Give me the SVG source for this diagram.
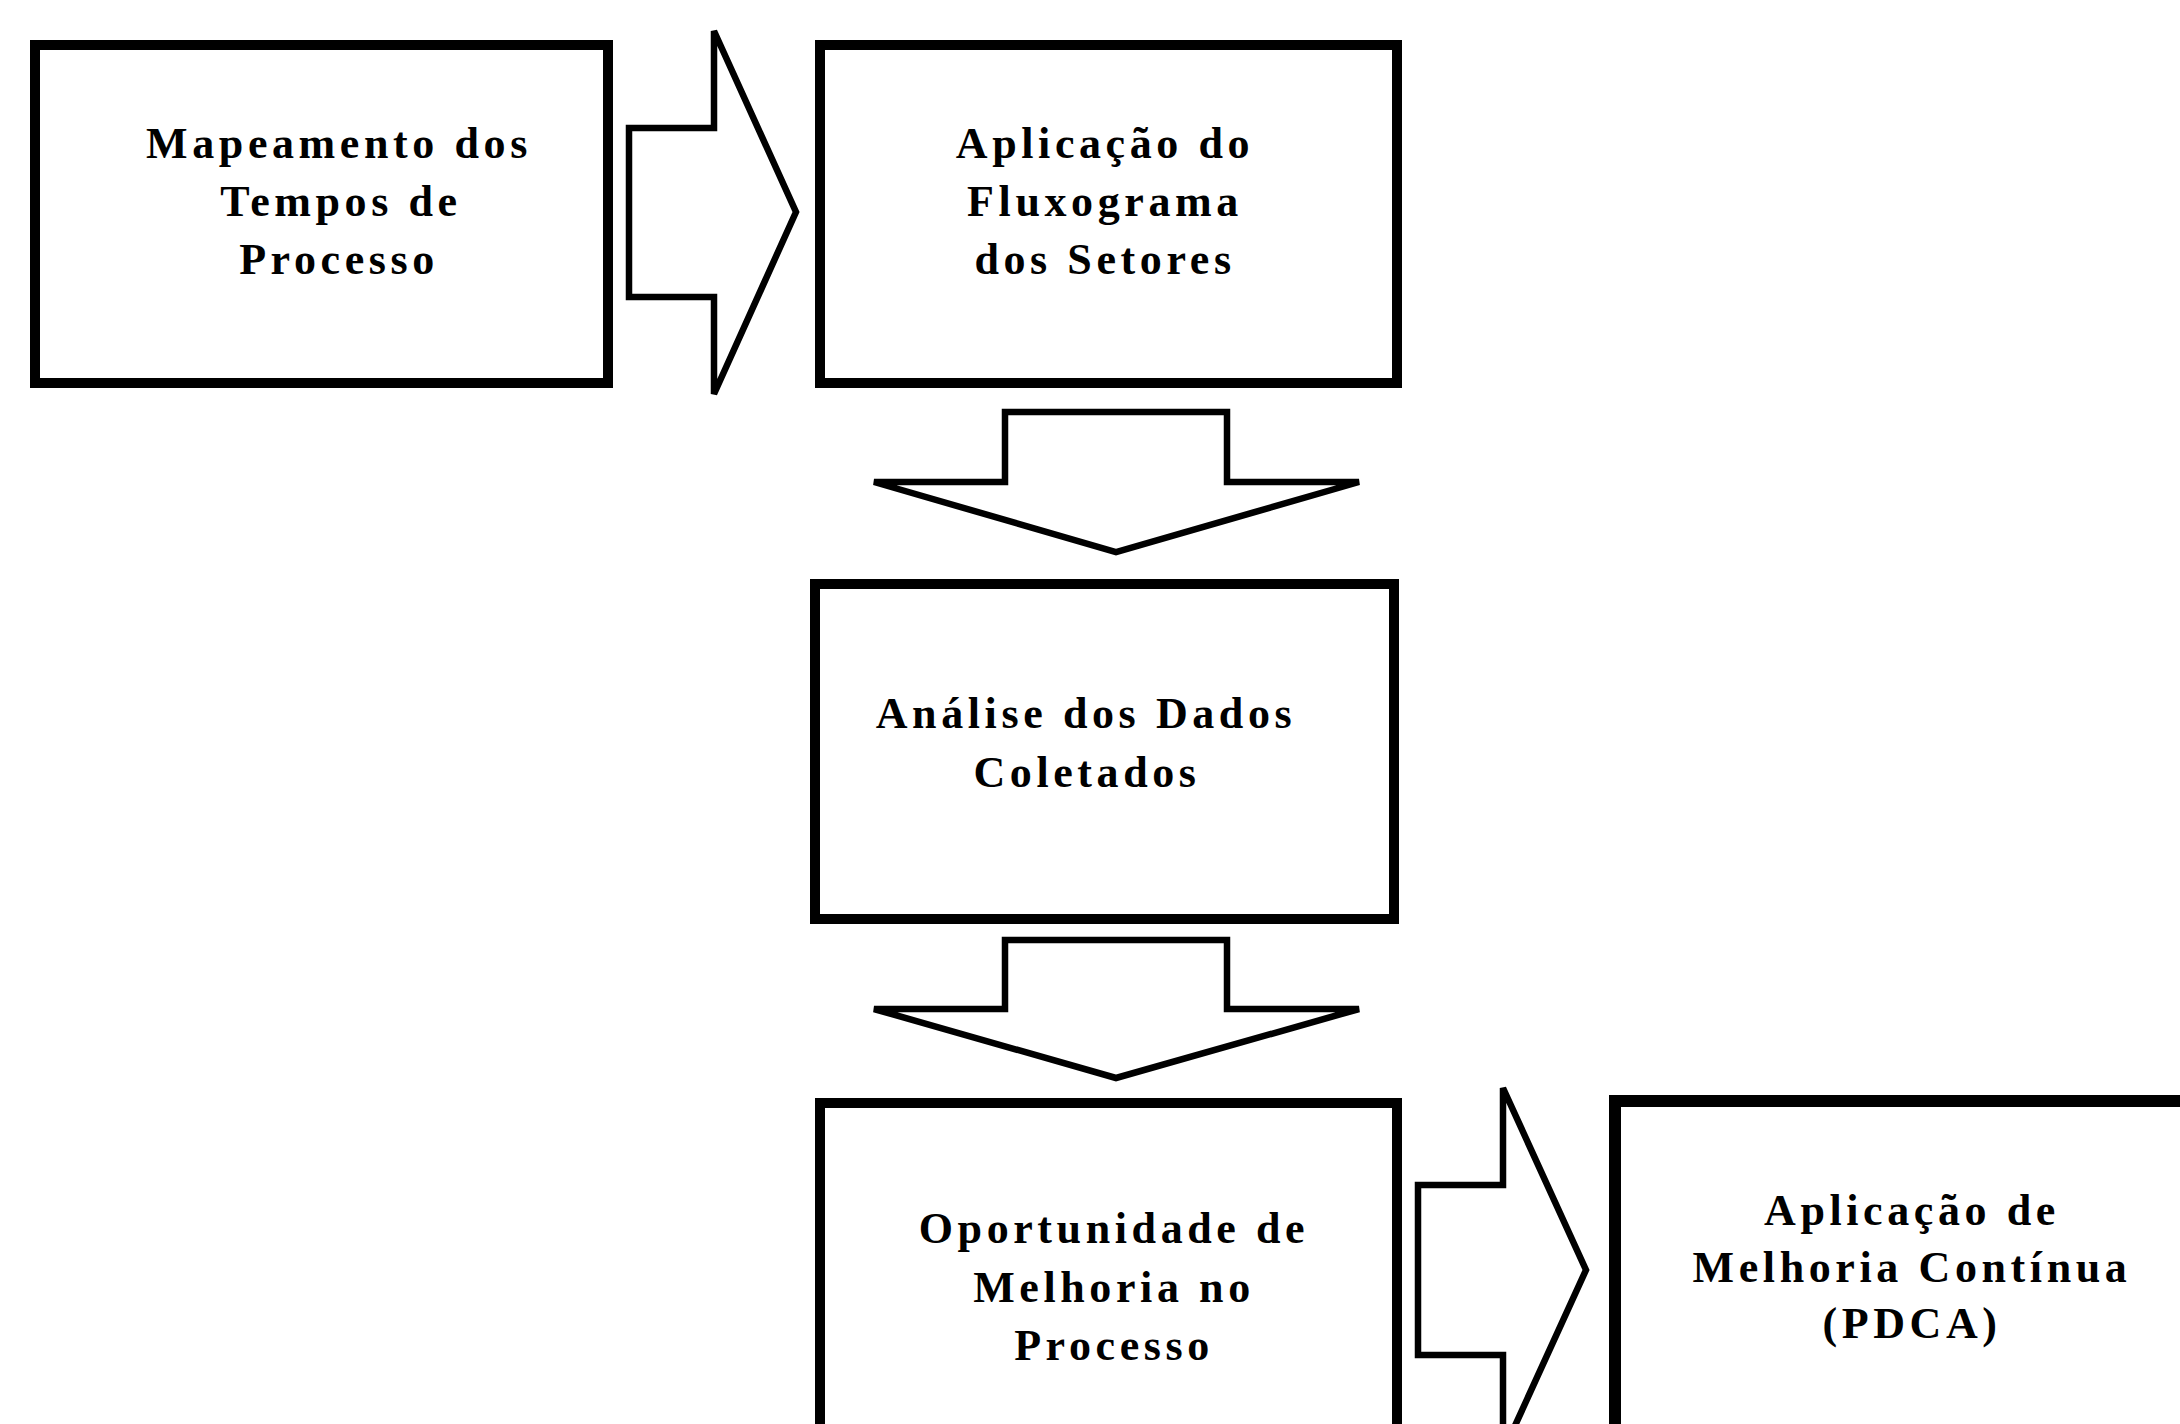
<svg xmlns="http://www.w3.org/2000/svg" width="2180" height="1424" viewBox="0 0 2180 1424">
<style>
.box{fill:#fff;stroke:#000;stroke-width:10}
.arr{fill:#fff;stroke:#000;stroke-width:6.5;stroke-linejoin:miter;stroke-miterlimit:4}
.t{font-family:"Liberation Serif","Times New Roman",serif;font-weight:bold;font-size:44px;letter-spacing:4.6px;text-anchor:middle;fill:#000}
</style>
<rect width="2180" height="1424" fill="#fff"/>
<g id="connectors">
<polygon class="arr" points="629,128 714,128 714,31 796,212 714,394 714,297 629,297"/>
<polygon class="arr" points="1005,412 1227,412 1227,482 1359,482 1116,552 874,482 1005,482"/>
<polygon class="arr" points="1005,940 1227,940 1227,1009 1359,1009 1116,1078 874,1009 1005,1009"/>
<polygon class="arr" points="1418,1185 1503,1185 1503,1088 1586,1270 1503,1452 1503,1355 1418,1355"/>
</g>
<g id="node1">
<rect class="box" x="35" y="45" width="573" height="338"/>
<text class="t" x="339" y="158">Mapeamento dos</text>
<text class="t" x="341" y="216">Tempos de</text>
<text class="t" x="339" y="274">Processo</text>
</g>
<g id="node2">
<rect class="box" x="820" y="45" width="577" height="338"/>
<text class="t" x="1105" y="158">Aplicação do</text>
<text class="t" x="1105" y="216">Fluxograma</text>
<text class="t" x="1105" y="274">dos Setores</text>
</g>
<g id="node3">
<rect class="box" x="815" y="584" width="579" height="335"/>
<text class="t" x="1086" y="728">Análise dos Dados</text>
<text class="t" x="1087" y="787">Coletados</text>
</g>
<g id="node4">
<rect class="box" x="820" y="1103" width="577" height="400"/>
<text class="t" x="1114" y="1243">Oportunidade de</text>
<text class="t" x="1114" y="1302">Melhoria no</text>
<text class="t" x="1114" y="1360">Processo</text>
</g>
<g id="node5">
<rect class="box" x="1615" y="1101" width="600" height="400" style="stroke-width:12"/>
<text class="t" x="1912" y="1225">Aplicação de</text>
<text class="t" x="1912" y="1282">Melhoria Contínua</text>
<text class="t" x="1912" y="1338">(PDCA)</text>
</g>
</svg>
